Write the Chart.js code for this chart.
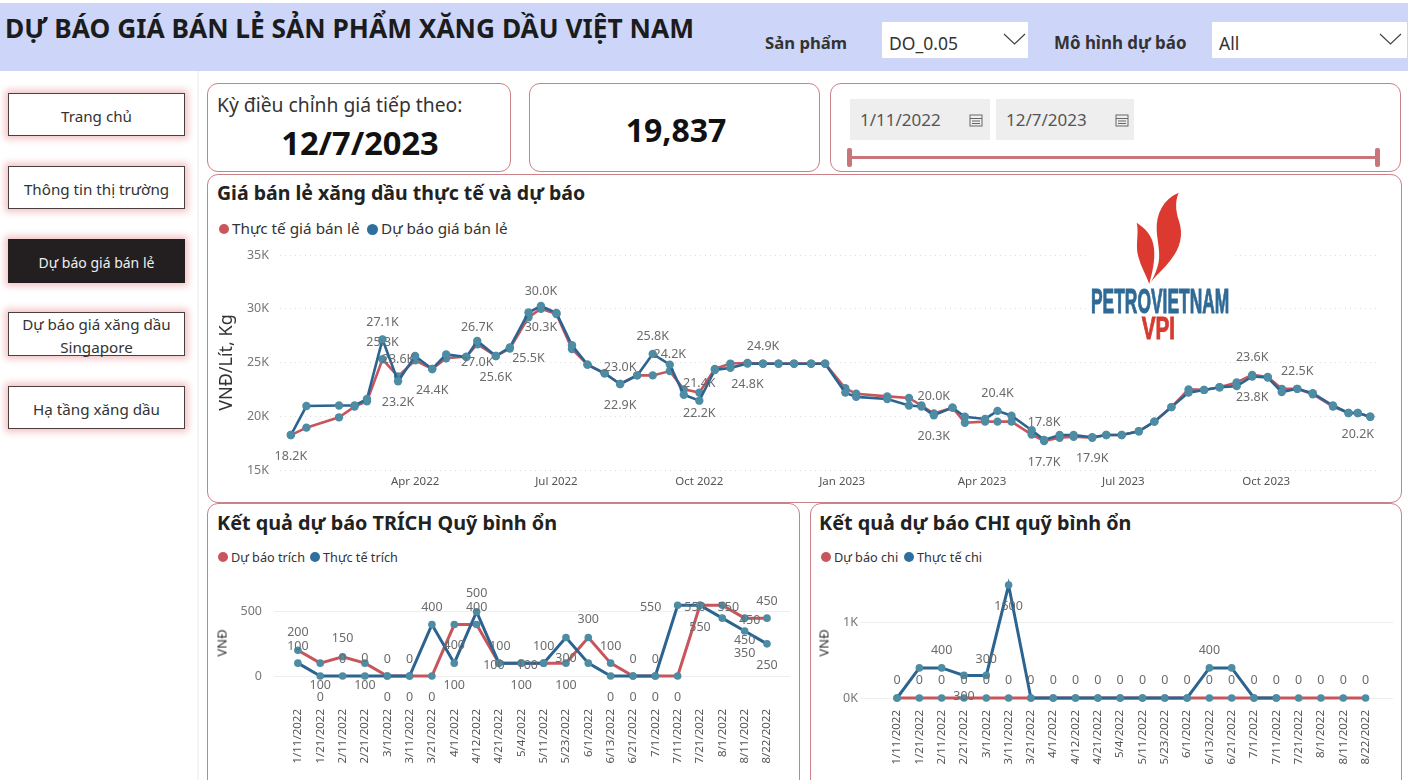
<!DOCTYPE html>
<html lang="vi">
<head>
<meta charset="utf-8">
<title>Dự báo giá bán lẻ</title>
<script src="https://cdn.jsdelivr.net/npm/chart.js@4"></script>
<style>
html, body { margin: 0; width: 1408px; height: 780px; overflow: hidden; background: #fff; }
body { font-family: "Noto Sans", sans-serif; color: #252423; position: relative; }
.abs { position: absolute; white-space: nowrap; line-height: 1; }
.band { position: absolute; left: 0; top: 3px; width: 1408px; height: 68px; background: #cdd6f8; }
.rail { position: absolute; left: 197px; top: 71px; width: 2px; height: 709px; background: #f4f4f4; }
.card { position: absolute; box-sizing: border-box; border: 1.4px solid #cb8187; border-radius: 11px; background: #fff; }
.nav { position: absolute; left: 8px; width: 177px; box-sizing: border-box; border: 1.6px solid #4a4040; background: #fff;
       box-shadow: 0 0 7px 3px #f3c2c4; display: flex; align-items: center; justify-content: center; text-align: center;
       font-size: 15.2px; line-height: 23px; color: #333; padding-top: 3px; }
.nav.on { background: #231f20; color: #eee; font-size: 14px; border-color: #231f20; }
.drop { position: absolute; top: 22px; height: 36px; background: #fff; }
.drop span { position: absolute; left: 7px; top: 13px; font-size: 17.5px; line-height: 1; color: #333; }
.drop svg { position: absolute; top: 11px; }
.date { position: absolute; top: 99px; height: 41px; background: #eee; color: #555; font-size: 17px; }
.date span { position: absolute; left: 10px; top: 12px; line-height: 1; }
.date svg { position: absolute; top: 14px; }
.dot { position: absolute; border-radius: 50%; }
.ytitle { position: absolute; top: 643px; font-size: 13px; line-height: 1; color: #333; transform: translate(-50%, -50%) rotate(-90deg); }
canvas { position: absolute; }
</style>
</head>
<body>
<div class="band"></div>
<div class="rail"></div>
<div class="abs" style="left:5px;top:15px;font-size:26.3px;font-weight:700;color:#1c1c1c">DỰ BÁO GIÁ BÁN LẺ SẢN PHẨM XĂNG DẦU VIỆT NAM</div>
<div class="abs" style="left:765px;top:35px;font-size:16.7px;font-weight:700;color:#333">Sản phẩm</div>
<div class="abs" style="left:1054px;top:35px;font-size:16.9px;font-weight:700;color:#333">Mô hình dự báo</div>
<div class="drop" style="left:882px;width:146px"><span>DO_0.05</span>
  <svg style="left:121px" width="23" height="13"><path d="M1 1 L11.5 11 L22 1" fill="none" stroke="#444" stroke-width="1.2"/></svg></div>
<div class="drop" style="left:1212px;width:195px"><span>All</span>
  <svg style="left:167px" width="23" height="13"><path d="M1 1 L11.5 11 L22 1" fill="none" stroke="#444" stroke-width="1.2"/></svg></div>

<div class="nav" style="top:93px;height:43px">Trang chủ</div>
<div class="nav" style="top:166px;height:43px">Thông tin thị trường</div>
<div class="nav on" style="top:239px;height:44px">Dự báo giá bán lẻ</div>
<div class="nav" style="top:312px;height:44px">Dự báo giá xăng dầu Singapore</div>
<div class="nav" style="top:386px;height:43px">Hạ tầng xăng dầu</div>

<div class="card" style="left:207px;top:83px;width:304px;height:89px"></div>
<div class="abs" style="left:217px;top:95px;font-size:19.3px;color:#333">Kỳ điều chỉnh giá tiếp theo:</div>
<div class="abs" style="left:207px;width:306px;top:127px;text-align:center;font-size:32.6px;font-weight:700;color:#111">12/7/2023</div>
<div class="card" style="left:529px;top:83px;width:291px;height:89px"></div>
<div class="abs" style="left:529px;width:294px;top:114px;text-align:center;font-size:32px;font-weight:700;color:#111">19,837</div>
<div class="card" style="left:830px;top:83px;width:571px;height:89px"></div>
<div class="date" style="left:850px;width:140px"><span>1/11/2022</span>
  <svg style="left:119px" width="14" height="14"><rect x="1" y="2" width="12" height="11" fill="none" stroke="#666"/><path d="M1 5.5H13M3 8H11M3 10.5H11" stroke="#666"/></svg></div>
<div class="date" style="left:996px;width:138px"><span>12/7/2023</span>
  <svg style="left:119px" width="14" height="14"><rect x="1" y="2" width="12" height="11" fill="none" stroke="#666"/><path d="M1 5.5H13M3 8H11M3 10.5H11" stroke="#666"/></svg></div>
<div class="abs" style="left:849px;top:156px;width:530px;height:3px;background:#c9757b"></div>
<div class="abs" style="left:847px;top:148px;width:5px;height:19px;border-radius:2px;background:#c9757b"></div>
<div class="abs" style="left:1375px;top:148px;width:5px;height:19px;border-radius:2px;background:#c9757b"></div>

<div class="card" style="left:207px;top:174px;width:1195px;height:329px"></div>
<div class="abs" style="left:217px;top:183px;font-size:19.5px;font-weight:700;color:#222">Giá bán lẻ xăng dầu thực tế và dự báo</div>
<div class="dot" style="left:219px;top:224px;width:10px;height:10px;background:#c9565c"></div>
<div class="abs" style="left:232px;top:221px;font-size:15.3px;color:#333">Thực tế giá bán lẻ</div>
<div class="dot" style="left:367px;top:224px;width:11px;height:11px;background:#2e6f9e"></div>
<div class="abs" style="left:381px;top:221px;font-size:15.3px;color:#333">Dự báo giá bán lẻ</div>

<div class="card" style="left:207px;top:503px;width:593px;height:300px"></div>
<div class="abs" style="left:217px;top:513px;font-size:19.8px;font-weight:700;color:#222">Kết quả dự báo TRÍCH Quỹ bình ổn</div>
<div class="dot" style="left:218px;top:552px;width:10px;height:10px;background:#c9565c"></div>
<div class="abs" style="left:231px;top:551px;font-size:12.7px;color:#333">Dự báo trích</div>
<div class="dot" style="left:310px;top:552px;width:10px;height:10px;background:#2e6f9e"></div>
<div class="abs" style="left:323px;top:551px;font-size:12.7px;color:#333">Thực tế trích</div>

<div class="card" style="left:810px;top:503px;width:592px;height:300px"></div>
<div class="abs" style="left:819px;top:513px;font-size:19.8px;font-weight:700;color:#222">Kết quả dự báo CHI quỹ bình ổn</div>
<div class="dot" style="left:821px;top:552px;width:10px;height:10px;background:#c9565c"></div>
<div class="abs" style="left:834px;top:551px;font-size:12.7px;color:#333">Dự báo chi</div>
<div class="dot" style="left:904px;top:552px;width:10px;height:10px;background:#2e6f9e"></div>
<div class="abs" style="left:917px;top:551px;font-size:12.7px;color:#333">Thực tế chi</div>

<canvas id="mainChart" width="1192" height="255" style="left:208px;top:245px"></canvas>
<canvas id="trichChart" width="590" height="204" style="left:208px;top:576px"></canvas>
<canvas id="chiChart" width="590" height="220" style="left:811px;top:560px"></canvas>
<div class="ytitle" style="left:222px">VNĐ</div>
<div class="ytitle" style="left:824px">VNĐ</div>

<svg class="abs" style="left:1080px;top:180px" width="170" height="170" viewBox="0 0 510 510">
  <rect x="30" y="30" width="422" height="460" fill="#fff"/>
  <path d="M296 38 C250 58 228 100 230 150 C232 190 245 225 232 262 C226 282 218 298 210 312 C222 290 250 270 272 240 C300 205 312 165 296 120 C288 95 284 65 296 38Z" fill="#dc3a30"/>
  <path d="M170 128 C178 160 165 195 175 230 C182 258 198 285 208 312 C216 280 226 245 222 205 C218 165 195 145 170 128Z" fill="#dc3a30"/>
  <text x="33" y="398" font-family="Liberation Sans Narrow, Liberation Sans" font-weight="700" font-size="104" textLength="415" lengthAdjust="spacingAndGlyphs" fill="#2f6a96" stroke="#2f6a96" stroke-width="3">PETROVIETNAM</text>
  <text x="185" y="478" font-family="Liberation Sans Narrow, Liberation Sans" font-weight="700" font-size="96" textLength="100" lengthAdjust="spacingAndGlyphs" fill="#d63a30" stroke="#d63a30" stroke-width="3">VPI</text>
</svg>

<script>
// retail price, one row per price adjustment date
const priceDates = ['2022-01-11','2022-01-21','2022-02-11','2022-02-21','2022-03-01','2022-03-11','2022-03-21','2022-04-01','2022-04-12','2022-04-21',
  '2022-05-04','2022-05-11','2022-05-23','2022-06-01','2022-06-13','2022-06-21','2022-07-01','2022-07-11','2022-07-21','2022-08-01',
  '2022-08-11','2022-08-22','2022-09-01','2022-09-12','2022-09-21','2022-10-01','2022-10-11','2022-10-21','2022-11-01','2022-11-11',
  '2022-11-21','2022-12-01','2022-12-12','2022-12-21','2023-01-03','2023-01-10','2023-01-30','2023-02-13','2023-02-21','2023-03-01',
  '2023-03-13','2023-03-21','2023-04-03','2023-04-11','2023-04-20','2023-05-03','2023-05-11','2023-05-21','2023-05-30','2023-06-11',
  '2023-06-20','2023-06-30','2023-07-11','2023-07-21','2023-08-01','2023-08-12','2023-08-22','2023-09-01','2023-09-12','2023-09-22',
  '2023-10-02','2023-10-11','2023-10-21','2023-10-31','2023-11-13','2023-11-23','2023-11-29','2023-12-07'];
const actualPrice = [18250,18940,19900,20900,21400,25300,23700,25200,24400,25400,
  25550,26700,25600,26300,29200,30000,29500,26250,24800,24000,
  23000,23800,23800,24200,22500,22200,24400,24900,24950,24900,
  24900,24900,24900,24900,22600,22100,21850,21700,21000,20250,
  20800,19400,19500,19500,19500,18300,17700,18000,18100,18000,
  18250,18250,18600,19500,20850,22500,22450,22700,23150,23850,
  23650,22550,22550,22050,20900,20300,20300,19950];
const forecastPrice = [18250,20950,21000,21000,21600,27150,23250,25600,24400,25750,
  25500,27000,25600,26400,29650,30250,29600,26600,24800,24000,
  23000,23800,25800,24800,22000,21450,24300,24500,24900,24880,
  24880,24880,24880,24880,22200,21800,21600,21000,20900,20100,
  20800,19950,19750,20500,20050,18700,17800,18250,18250,18050,
  18250,18250,18600,19500,20850,22200,22450,22700,22800,23700,
  23600,22250,22550,22150,21000,20300,20300,19950];
const quarterTicks = ['2022-04-01','2022-07-01','2022-10-01','2023-01-01','2023-04-01','2023-07-01','2023-10-01'];
const priceTicks = [15000,20000,25000,30000,35000];
// data label text as printed on the report: [date index, text]
const actualTags = [[5,'25.3K'],[6,'23.6K'],[11,'26.7K'],[15,'30.0K'],[20,'23.0K'],[23,'24.2K'],[25,'22.2K'],[29,'24.9K'],[39,'20.0K'],[46,'17.7K'],[49,'17.9K'],[59,'23.6K'],[62,'22.5K']];
const forecastTags = [[0,'18.2K'],[5,'27.1K'],[6,'23.2K'],[8,'24.4K'],[11,'27.0K'],[12,'25.6K'],[14,'25.5K'],[15,'30.3K'],[20,'22.9K'],[22,'25.8K'],[25,'21.4K'],[28,'24.8K'],[39,'20.3K'],[43,'20.4K'],[46,'17.8K'],[59,'23.8K'],[66,'20.2K']];

const fundDates = ['1/11/2022','1/21/2022','2/11/2022','2/21/2022','3/1/2022','3/11/2022','3/21/2022','4/1/2022','4/12/2022','4/21/2022','5/4/2022',
  '5/11/2022','5/23/2022','6/1/2022','6/13/2022','6/21/2022','7/1/2022','7/11/2022','7/21/2022','8/1/2022','8/11/2022','8/22/2022'];
const trichForecast = [200,100,150,100,0,0,0,400,400,100,100,100,100,300,100,0,0,0,550,550,450,450];
const trichActual = [100,0,0,0,0,0,400,100,500,100,100,100,300,100,0,0,0,550,550,450,350,250];
const chiForecast = [0,0,0,0,0,0,0,0,0,0,0,0,0,0,0,0,0,0,0,0,0,0];
const chiActual = [0,400,400,300,300,1500,0,0,0,0,0,0,0,0,400,400,0,0,null,null,null,null];

const RED = '#c8545c', BLUE = '#2b6490', TEAL = '#4d8ca3';
const FONT = '"Noto Sans", sans-serif';
const dayOf = s => Date.parse(s) / 86400000;

// draws data labels next to a point; spot = [dataset, index, text, dy, dx]
function tagPlugin(spots) {
  return {
    id: 'tags',
    afterDatasetsDraw(chart) {
      const ctx = chart.ctx;
      ctx.save();
      ctx.font = '12.5px ' + FONT;
      ctx.fillStyle = '#6b6b6b';
      ctx.textAlign = 'center';
      ctx.textBaseline = 'middle';
      spots.forEach(s => {
        const p = chart.getDatasetMeta(s[0]).data[s[1]];
        ctx.fillText(s[2], p.x + (s[4] || 0), p.y + s[3]);
      });
      ctx.restore();
    }
  };
}

function lineSet(label, color, rows, width, order, radius) {
  return { label: label, data: rows, borderColor: color, backgroundColor: TEAL, borderWidth: width, order: order, clip: false,
           pointRadius: radius, pointHoverRadius: radius, pointBorderWidth: 0, tension: 0, spanGaps: false };
}

// y axis keeps a set width and no tick padding above or below the plot
function fitY(w) { return scale => { scale.width = w; scale.paddingTop = 0; scale.paddingBottom = 0; }; }

// main chart
const belowActual = [25, 46, 49];
const belowForecast = [0, 6, 8, 11, 12, 15, 20, 28, 39, 59, 66];
const mainSpots = [];
actualTags.forEach(t => mainSpots.push([0, t[0], t[1], belowActual.includes(t[0]) ? 21 : -17]));
forecastTags.forEach(t => {
  const dy = t[0] === 14 ? 46 : (belowForecast.includes(t[0]) ? 21 : -17);
  mainSpots.push([1, t[0], t[1], dy]);
});
new Chart(document.getElementById('mainChart'), {
  type: 'line',
  data: { datasets: [
    lineSet('Thực tế giá bán lẻ', RED, priceDates.map((d, i) => ({ x: dayOf(d), y: actualPrice[i] })), 2.6, 2, 4.2),
    lineSet('Dự báo giá bán lẻ', BLUE, priceDates.map((d, i) => ({ x: dayOf(d), y: forecastPrice[i] })), 2.6, 1, 4.2)
  ] },
  options: {
    responsive: false, animation: false,
    layout: { padding: { top: 10, right: 22, left: 0, bottom: 0 } },
    plugins: { legend: { display: false }, tooltip: { enabled: false } },
    scales: {
      x: {
        type: 'linear', min: dayOf('2022-01-11') - 7, max: dayOf('2022-01-11') + 700,
        afterBuildTicks: s => { s.ticks = quarterTicks.map(q => ({ value: dayOf(q) })); },
        afterFit: s => { s.height = 30; },
        grid: { display: false, drawTicks: false, tickLength: 0 }, border: { display: false },
        ticks: { autoSkip: false, maxRotation: 0, padding: 5, color: '#555', font: { family: FONT, size: 11.5 },
          callback: v => { const d = new Date(v * 86400000); return d.toLocaleString('en-US', { month: 'short', timeZone: 'UTC' }) + ' ' + d.getUTCFullYear(); } }
      },
      y: {
        min: 15000, max: 35000,
        afterBuildTicks: s => { s.ticks = priceTicks.map(v => ({ value: v })); },
        afterFit: fitY(72),
        grid: { color: '#dcdcdc', drawTicks: false, tickLength: 0 }, border: { display: false, dash: [1, 4] },
        ticks: { padding: 11, color: '#777', font: { family: FONT, size: 12.5 }, callback: v => (v / 1000) + 'K' },
        title: { display: true, text: 'VNĐ/Lít, Kg', color: '#333', padding: { top: 8, bottom: 0 }, font: { family: FONT, size: 18 } }
      }
    }
  },
  plugins: [tagPlugin(mainSpots)]
});

// small fund charts share the same axis setup
function fundChart(id, names, rows, yMax, yTicks, yFmt, opt, spots) {
  new Chart(document.getElementById(id), {
    type: 'line',
    data: { datasets: [
      lineSet(names[0], RED, rows[0].map((v, i) => ({ x: i, y: v })), 3, 2, 3.8),
      lineSet(names[1], BLUE, rows[1].map((v, i) => ({ x: i, y: v })), 3, 1, 3.8)
    ] },
    options: {
      responsive: false, animation: false,
      layout: { padding: { top: opt.top, right: opt.right, left: 0, bottom: 0 } },
      plugins: { legend: { display: false }, tooltip: { enabled: false } },
      scales: {
        x: {
          type: 'linear', min: opt.xMin, max: opt.xMax,
          afterBuildTicks: s => { s.ticks = fundDates.map((d, i) => ({ value: i })); },
          afterFit: s => { s.height = opt.bottom; s.paddingLeft = 0; s.paddingRight = 0; },
          grid: { display: false, drawTicks: false, tickLength: 0 }, border: { display: false },
          ticks: { autoSkip: false, minRotation: 90, maxRotation: 90, padding: opt.tickPad, color: '#555',
            font: { family: FONT, size: 11.5 }, callback: v => fundDates[v] }
        },
        y: {
          min: 0, max: yMax,
          afterBuildTicks: s => { s.ticks = yTicks.map(v => ({ value: v })); },
          afterFit: fitY(opt.left),
          grid: { color: '#eeeeee', drawTicks: false, tickLength: 0 }, border: { display: false },
          ticks: { padding: opt.yPad, color: '#777', font: { family: FONT, size: 12.5 }, callback: yFmt }
        }
      }
    },
    plugins: [tagPlugin(spots.map(s => [s[0], s[1], String(rows[s[0]][s[1]]), s[2], s[3]]))]
  });
}

const trichSpots = [[0,0,-18],[1,0,-17],[0,1,22],[1,1,21],[0,2,-18],[1,2,-17],[0,3,22],[1,3,-18],[0,4,-17],[1,4,21],[0,5,-17],[1,5,21],
  [1,6,-17],[0,6,21],[0,7,21],[1,7,22],[1,8,-18],[0,8,-17],[0,9,-17,1],[1,9,2,-5],[1,10,22],[0,10,2,6],[1,11,-17],[0,12,22],[1,12,21],
  [0,13,-18],[0,14,-17],[1,14,21],[0,15,-17],[1,15,21],[0,16,-17],[1,16,21],[1,17,2,-27],[0,17,21],[1,18,22],[0,18,2,-5],[0,19,2,6],
  [0,20,22],[0,20,2,5],[1,20,22],[0,21,-17],[1,21,22]];
fundChart('trichChart', ['Dự báo trích', 'Thực tế trích'], [trichForecast, trichActual], 700, [0, 500], v => String(v),
  { top: 10, bottom: 104, left: 66, right: 8, xMin: -1.07, xMax: 22.03, tickPad: 33, yPad: 12 }, trichSpots);

const chiSpots = fundDates.map((d, i) => [0, i, -18]).concat([[1,2,-17],[1,3,21],[1,4,-16],[1,5,21],[1,14,-17]]);
fundChart('chiChart', ['Dự báo chi', 'Thực tế chi'], [chiForecast, chiActual], 1700, [0, 1000], v => (v / 1000) + 'K',
  { top: 10, bottom: 82, left: 49, right: 8, xMin: -1.66, xMax: 22.23, tickPad: 12, yPad: 2 }, chiSpots);
</script>
</body>
</html>
